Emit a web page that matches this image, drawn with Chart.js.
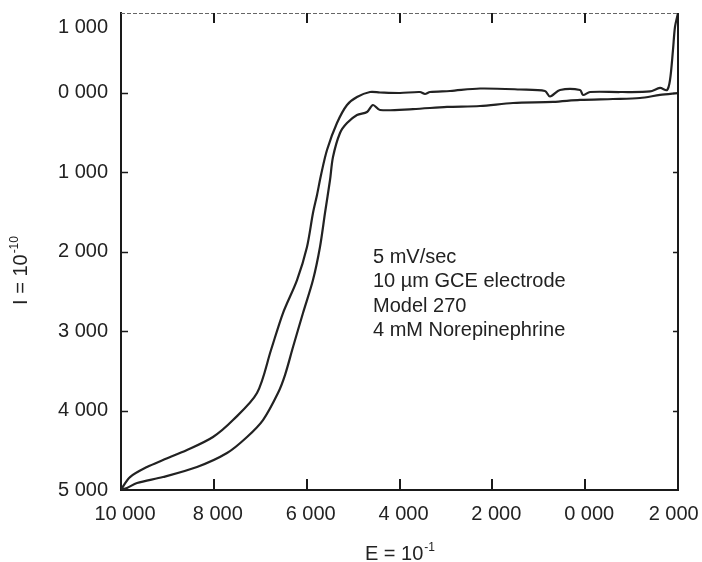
<!DOCTYPE html>
<html>
<head>
<meta charset="utf-8">
<script src="https://cdn.jsdelivr.net/npm/chart.js@4/dist/chart.umd.min.js"></script>
<style>
  html, body { margin: 0; padding: 0; background: #ffffff; }
  #wrap { width: 702px; height: 562px; }
</style>
</head>
<body>
<div id="wrap"><canvas id="c" width="702" height="562"></canvas></div>
<script>
// ---- data ----
const scan1E = [10000, 9978, 9806, 9440, 9095, 8578, 8018, 7587, 7070, 6768, 6510, 6208, 5993, 5864, 5777, 5691, 5562, 5347, 5131, 4916, 4636, 4420, 3989, 3558, 3451, 3343, 2912, 2266, 1404, 866, 758, 542, 111, 47, -104, -750, -1397, -1612, -1763, -1828, -1892, -1935, -2000];
const scan1I = [5000, 4975, 4837, 4711, 4623, 4497, 4333, 4120, 3780, 3239, 2774, 2359, 1943, 1516, 1289, 1038, 723, 384, 157, 57, -6, 0, 6, -6, 19, -6, -19, -50, -38, -19, 50, -31, -31, 31, -6, -6, -13, -57, -31, -157, -535, -824, -1000];

const scan2E = [-2000, -1612, -1181, -600, 111, 693, 1555, 2266, 2977, 3709, 4420, 4571, 4700, 4916, 5131, 5282, 5433, 5497, 5605, 5713, 5864, 6079, 6294, 6467, 6618, 6941, 7285, 7716, 8363, 9095, 9655, 9871, 10000];
const scan2I = [6, 31, 69, 82, 94, 119, 132, 170, 182, 208, 220, 157, 245, 283, 384, 509, 811, 1101, 1516, 1943, 2359, 2774, 3201, 3554, 3780, 4120, 4333, 4535, 4711, 4837, 4912, 4975, 5000];

const xTickValues = [10000, 8000, 6000, 4000, 2000, 0, -2000];
const xTickLabels = ['10 000', '8 000', '6 000', '4 000', '2 000', '0 000', '2 000'];
const yTickValues = [-1000, 0, 1000, 2000, 3000, 4000, 5000];
const yTickLabels = ['1 000', '0 000', '1 000', '2 000', '3 000', '4 000', '5 000'];

const xTitleMain = 'E = 10';
const xTitleSup = '-1';
const yTitleMain = 'I = 10';
const yTitleSup = '-10';

const noteLines = ['5 mV/sec', '10 µm GCE electrode', 'Model 270', '4 mM Norepinephrine'];
const noteAnchorE = 4571;
const noteAnchorI = 2069;

// ---- build ----
const toPts = (xs, ys) => xs.map((x, i) => ({ x: x, y: ys[i] }));
const FONT = '"Liberation Sans", Arial, Helvetica, sans-serif';
const INK = '#222222';

const framePlugin = {
  id: 'frameAndTicks',
  afterDraw(chart) {
    const { ctx, chartArea: a, scales } = chart;
    const xs = scales.x, ys = scales.y;
    ctx.save();
    // right border
    ctx.strokeStyle = '#1a1a1a';
    ctx.lineWidth = 2;
    ctx.beginPath();
    ctx.moveTo(a.right, a.top);
    ctx.lineTo(a.right, a.bottom);
    ctx.stroke();
    // top border (thin, broken)
    ctx.strokeStyle = '#666';
    ctx.lineWidth = 1;
    ctx.setLineDash([4, 2]);
    ctx.beginPath();
    ctx.moveTo(a.left, a.top + 0.5);
    ctx.lineTo(a.right, a.top + 0.5);
    ctx.stroke();
    ctx.setLineDash([]);
    // inward ticks
    ctx.strokeStyle = '#1a1a1a';
    ctx.lineWidth = 2;
    xTickValues.forEach(v => {
      if (v === xs.min || v === xs.max) return;
      const px = Math.round(xs.getPixelForValue(v));
      ctx.beginPath();
      ctx.moveTo(px, a.bottom); ctx.lineTo(px, a.bottom - 11);
      ctx.moveTo(px, a.top); ctx.lineTo(px, a.top + 10);
      ctx.stroke();
    });
    ctx.lineWidth = 1.5;
    yTickValues.forEach(v => {
      if (v === ys.min || v === ys.max) return;
      const py = Math.round(ys.getPixelForValue(v)) + 0.5;
      ctx.beginPath();
      ctx.moveTo(a.left, py); ctx.lineTo(a.left + 7, py);
      ctx.moveTo(a.right, py); ctx.lineTo(a.right - 5, py);
      ctx.stroke();
    });
    // axis titles with superscripts
    ctx.fillStyle = INK;
    ctx.textBaseline = 'alphabetic';
    ctx.textAlign = 'left';
    const mainF = '20px ' + FONT, supF = '12px ' + FONT;
    // x title
    ctx.font = mainF;
    const wm = ctx.measureText(xTitleMain).width;
    ctx.font = supF;
    const ws = ctx.measureText(xTitleSup).width;
    let sx = (a.left + a.right) / 2 - (wm + ws) / 2;
    ctx.font = mainF;
    ctx.fillText(xTitleMain, sx, 560);
    ctx.font = supF;
    ctx.fillText(xTitleSup, sx + wm + 1, 551);
    // y title (rotated)
    ctx.save();
    ctx.translate(27, 271);
    ctx.rotate(-Math.PI / 2);
    ctx.font = mainF;
    const ym = ctx.measureText(yTitleMain).width;
    ctx.font = supF;
    const ysw = ctx.measureText(yTitleSup).width;
    const sy = -(ym + ysw) / 2;
    ctx.font = mainF;
    ctx.fillText(yTitleMain, sy, 0);
    ctx.font = supF;
    ctx.fillText(yTitleSup, sy + ym + 1, -9);
    ctx.restore();
    // note text
    const nx = xs.getPixelForValue(noteAnchorE);
    const ny = ys.getPixelForValue(noteAnchorI);
    ctx.font = '20px ' + FONT;
    ctx.textBaseline = 'middle';
    noteLines.forEach((t, i) => ctx.fillText(t, nx, ny + i * 24.5));
    ctx.restore();
  }
};

new Chart(document.getElementById('c'), {
  type: 'scatter',
  data: {
    datasets: [
      { data: toPts(scan1E, scan1I), showLine: true, borderColor: INK, borderWidth: 2.2, pointRadius: 0, fill: false, tension: 0.3 },
      { data: toPts(scan2E, scan2I), showLine: true, borderColor: INK, borderWidth: 2.2, pointRadius: 0, fill: false, tension: 0.3 }
    ]
  },
  options: {
    responsive: false,
    animation: false,
    layout: { padding: { top: 13, right: 24, left: 0, bottom: 0 } },
    plugins: { legend: { display: false }, tooltip: { enabled: false } },
    scales: {
      x: {
        type: 'linear', reverse: true, min: -2000, max: 10000,
        grid: { display: false, drawTicks: false },
        border: { display: true, color: '#1a1a1a', width: 2 },
        ticks: {
          stepSize: 2000, padding: 12, color: INK, labelOffset: 4,
          font: { family: FONT, size: 20 },
          maxRotation: 0, autoSkip: false,
          callback: v => {
            const i = xTickValues.indexOf(v);
            if (i < 0) return '';
            return v === -2000 ? xTickLabels[i] + '   ' : xTickLabels[i];
          }
        },
        afterFit: s => { s.height = 72; s.paddingLeft = 0; s.paddingRight = 0; }
      },
      y: {
        type: 'linear', reverse: true, min: -1000, max: 5000,
        grid: { display: false, drawTicks: false },
        border: { display: true, color: '#1a1a1a', width: 2 },
        ticks: {
          stepSize: 1000, padding: 13, color: INK, autoSkip: false,
          font: ctx => (ctx.tick && ctx.tick.value === -1000)
            ? { family: FONT, size: 20, lineHeight: 1.4 }
            : { family: FONT, size: 20 },
          callback: v => {
            const i = yTickValues.indexOf(v);
            if (i < 0) return '';
            return v === -1000 ? ['', yTickLabels[i]] : yTickLabels[i];
          }
        },
        afterFit: s => { s.width = 121; s.paddingTop = 0; s.paddingBottom = 0; }
      }
    }
  },
  plugins: [framePlugin]
});
</script>
</body>
</html>
